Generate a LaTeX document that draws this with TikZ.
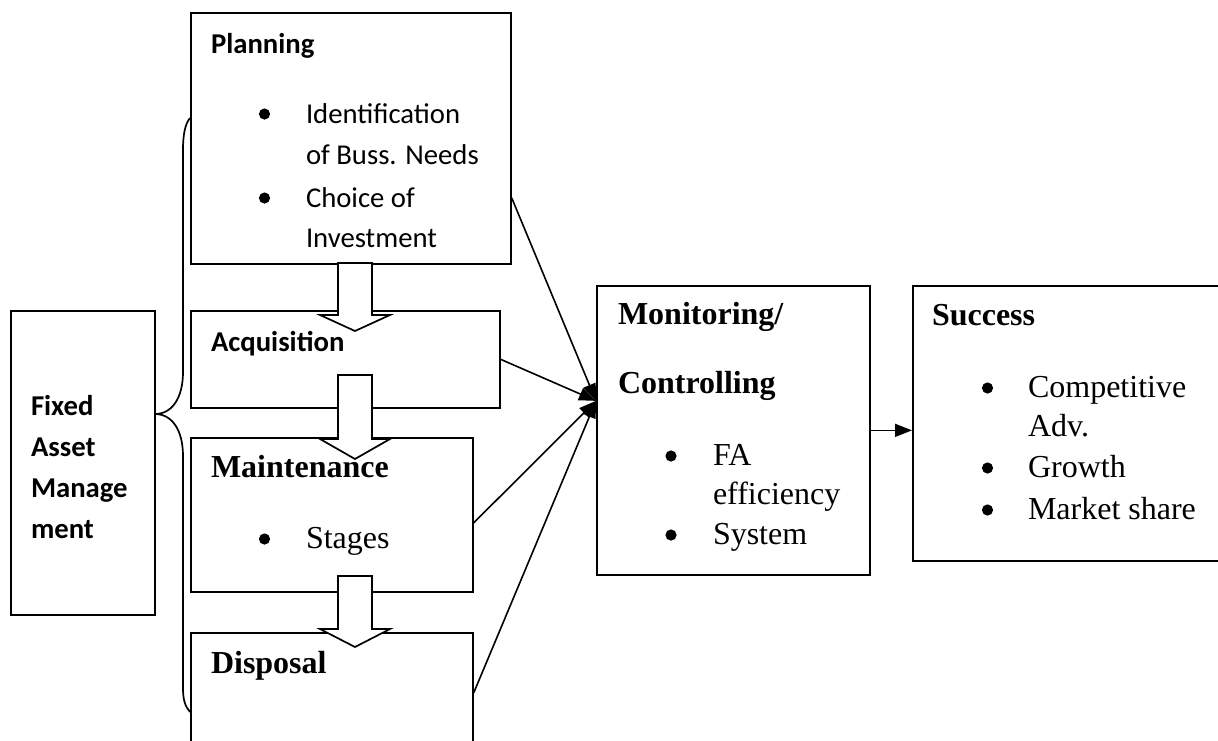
\documentclass[tikz,border=0pt]{standalone}
\usepackage{fontspec}
\setmainfont{Liberation Serif}
\newfontfamily\calfont{Carlito}
\usetikzlibrary{arrows.meta}
\begin{document}
\begin{tikzpicture}[x=1pt,y=-1pt,
  box/.style={draw, line width=1.7pt, rectangle, inner sep=0pt, anchor=north west},
  txt/.style={anchor=base west, inner sep=0pt, outer sep=0pt},
  cb/.style={txt, font=\calfont\bfseries\fontsize{28.7}{34}\selectfont},
  cr/.style={txt, font=\calfont\fontsize{28.7}{34}\selectfont},
  tb/.style={txt, font=\bfseries\fontsize{32}{38}\selectfont},
  tr/.style={txt, font=\fontsize{32}{38}\selectfont},
  bul/.style={fill=black},
  conn/.style={line width=1.6pt, -{Triangle[length=17pt,width=13pt]}},
  blk/.style={draw, fill=white, line width=1.7pt, line join=miter},
  brace/.style={line width=1.7pt}]
\useasboundingbox (0,0) rectangle (1218,740);
\clip (0,0) rectangle (1218,740);

% boxes
\node[box, minimum width=320, minimum height=251] (plan) at (190,12) {};
\node[box, minimum width=309, minimum height=97]  (acq)  at (190,310) {};
\node[box, minimum width=282, minimum height=154] (maint) at (190,437) {};
\node[box, minimum width=282, minimum height=130] (disp) at (190,632) {};
\node[box, minimum width=144, minimum height=304] (fam)  at (10,310) {};
\node[box, minimum width=273, minimum height=289] (mon)  at (596,285) {};
\node[box, minimum width=330, minimum height=275] (suc)  at (912,285) {};

% block arrows
\newcommand\blockarrow[3]{%
  \draw[blk] (338,#1) -- (338,#2) -- (320,#2) -- (355,#3) -- (390,#2) -- (372,#2) -- (372,#1) -- cycle;}
\blockarrow{263}{315}{331}
\blockarrow{375}{439}{459}
\blockarrow{576}{629}{647}

% brace
\coordinate (tip) at (155,414);
\draw[brace] (190,118) .. controls (185,124) and (183,135) .. (183,150) -- (183,372)
  .. controls (183,398) and (172,414) .. (tip)
  .. controls (172,414) and (183,430) .. (183,456) -- (183,688)
  .. controls (183,700) and (185,706) .. (190,712);

% connectors
\coordinate (tgt) at ([yshift=29.5pt]mon.west);
\draw[conn] ([yshift=-59.5pt]plan.east) -- (tgt);
\draw[conn] (acq.east) -- (tgt);
\draw[conn] ([yshift=-8pt]maint.east) -- (tgt);
\draw[conn] ([yshift=5pt]disp.east) -- (tgt);
\draw[conn] (mon.east) -- (mon.east -| suc.west);

% bullets
\foreach \bx/\by in {264.5/114, 264.5/198, 264.5/539, 671/456, 671/535, 987.5/388, 987.5/468, 987.5/510}
  \fill[bul] (\bx,\by) circle (5.6);

% texts: planning
\node[cb] (tplan) at (211,53) {Planning};
\node[cr] (tp1) at (306,123) {Identification};
\node[cr] (tp2) at (306,164) {of Buss. Needs};
\node[cr] (tp3) at (306,207) {Choice of};
\node[cr] (tp4) at (306,247) {Investment};
% acquisition
\node[cb] (tacq) at (211,351) {Acquisition};
% maintenance
\node[tb] (tmaint) at (211,477) {Maintenance};
\node[tr] (tm1) at (306,548) {Stages};
% disposal
\node[tb] (tdisp) at (211,673) {Disposal};
% fixed asset management
\node[cb] (tf1) at (31,415) {Fixed};
\node[cb] (tf2) at (31,456) {Asset};
\node[cb] (tf3) at (31,497) {Manage};
\node[cb] (tf4) at (31,538) {ment};
% monitoring
\node[tb] (tmon1) at (618,324) {Monitoring/};
\node[tb] (tmon2) at (618,393) {Controlling};
\node[tr] (tmo1) at (713,465) {FA};
\node[tr] (tmo2) at (713,504) {efficiency};
\node[tr] (tmo3) at (713,544) {System};
% success
\node[tb] (tsuc) at (932,325) {Success};
\node[tr] (ts1) at (1028,397) {Competitive};
\node[tr] (ts2) at (1028,436) {Adv.};
\node[tr] (ts3) at (1028,477) {Growth};
\node[tr] (ts4) at (1028,519) {Market share};
\end{tikzpicture}
\end{document}
